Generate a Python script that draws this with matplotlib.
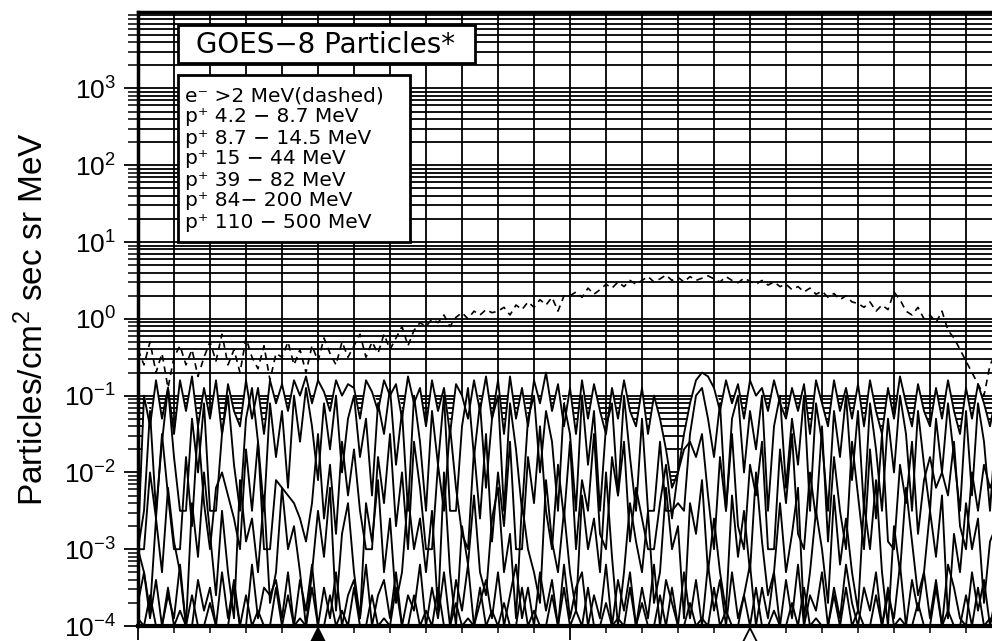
import numpy as np
import matplotlib.pyplot as plt
from matplotlib.ticker import LogLocator, MultipleLocator, NullFormatter
from matplotlib.patches import Rectangle
import matplotlib.transforms as mtransforms

plt.rcParams['font.family'] = ['Liberation Sans', 'DejaVu Sans']
plt.rcParams['mathtext.fontset'] = 'custom'
plt.rcParams['mathtext.rm'] = 'Liberation Sans'
plt.rcParams['mathtext.it'] = 'Liberation Sans'
plt.rcParams['mathtext.default'] = 'regular'

# log10 of flux, one sample every 10 minutes over 24 h
p_4_9 = [-2.9, -1.0, -1.4, -0.8, -1.3, -0.9, -1.5, -0.8, -1.2, -0.75, -1.4, -0.9,
         -1.3, -0.8, -1.5, -0.85, -1.2, -1.4, -0.8, -1.3, -0.9, -1.5, -0.8, -1.1,
         -0.85, -1.2, -0.8, -1.0, -0.75, -1.1, -0.8, -0.95, -1.2, -0.8, -1.0, -0.85,
         -0.9, -1.3, -0.8, -0.95, -1.2, -0.8, -1.0, -0.85, -1.3, -0.75, -1.1, -0.9,
         -1.4, -0.8, -1.2, -0.9, -1.5, -0.85, -1.0, -1.3, -0.8, -1.2, -0.75, -1.3,
         -0.8, -1.5, -0.75, -1.3, -0.9, -1.4, -0.8, -1.1, -0.7, -1.2, -0.85, -1.4,
         -0.9, -1.5, -0.8, -1.3, -0.85, -1.2, -1.5, -0.9, -1.3, -0.8, -1.2, -1.4,
         -0.9, -1.5, -1.0, -1.3, -1.7, -2.2, -2.0, -1.5, -1.1, -0.8, -0.7, -0.75,
         -0.9, -1.2, -0.8, -1.1, -0.85, -1.3, -0.8, -1.0, -0.9, -1.2, -0.8, -1.1,
         -1.3, -0.9, -1.2, -0.85, -1.5, -0.8, -1.1, -1.4, -0.8, -1.2, -0.9, -1.3,
         -0.85, -1.4, -0.8, -1.2, -1.5, -0.9, -1.3, -0.75, -1.1, -1.4, -0.85, -1.2,
         -1.4, -0.9, -1.3, -0.8, -1.2, -1.5, -0.9, -1.3, -0.85, -1.1, -1.4, -1.0]
p_9_15 = [-3.0, -2.5, -1.2, -2.5, -1.6, -0.9, -1.8, -2.5, -2.5, -1.3, -2.0, -1.1,
          -2.5, -2.5, -1.5, -1.0, -1.9, -2.5, -1.3, -0.9, -1.6, -2.5, -1.1, -1.8,
          -1.2, -2.2, -1.0, -1.6, -0.9, -1.4, -2.1, -1.1, -1.7, -1.0, -2.0, -1.3,
          -1.0, -1.8, -1.3, -2.3, -1.1, -1.5, -0.9, -1.9, -1.2, -2.5, -1.0, -1.6,
          -2.5, -1.2, -1.9, -1.0, -2.5, -2.5, -1.4, -0.9, -1.8, -1.1, -2.2, -1.3,
          -1.0, -2.5, -1.1, -1.7, -2.5, -1.3, -1.0, -2.0, -1.2, -1.6, -2.5, -1.1,
          -1.5, -2.5, -1.0, -1.9, -1.2, -2.5, -1.4, -1.1, -2.3, -1.0, -1.8, -2.5,
          -1.3, -2.5, -2.5, -1.6, -2.5, -2.5, -2.4, -2.5, -1.5, -1.0, -0.9, -1.3,
          -1.8, -1.1, -2.5, -1.3, -1.0, -2.0, -1.2, -1.7, -1.0, -2.5, -1.4, -1.0,
          -2.2, -1.3, -1.9, -1.0, -2.5, -1.1, -1.6, -2.5, -1.2, -1.8, -1.0, -2.1,
          -1.2, -2.5, -1.1, -1.7, -2.5, -1.3, -2.0, -1.0, -1.5, -2.5, -1.2, -1.9,
          -2.5, -1.3, -2.0, -1.1, -1.8, -2.5, -1.2, -2.3, -1.1, -1.6, -2.5, -1.4]
p_15_44 = [-3.0, -3.0, -2.0, -2.6, -1.5, -2.3, -3.0, -3.0, -1.8, -2.7, -1.4, -2.4,
           -3.0, -2.2, -2.0, -2.3, -2.6, -3.0, -1.7, -2.5, -1.6, -3.0, -3.0, -2.1,
           -2.2, -2.3, -2.4, -2.6, -2.9, -2.4, -1.5, -2.6, -1.9, -2.8, -1.6, -2.3,
           -1.7, -2.5, -3.0, -3.0, -1.8, -2.4, -1.5, -2.7, -2.0, -3.0, -1.6, -2.2,
           -3.0, -3.0, -1.9, -2.5, -1.4, -2.2, -2.8, -3.0, -1.7, -2.6, -1.5, -2.9,
           -2.0, -2.7, -1.6, -3.0, -3.0, -1.8, -2.4, -1.4, -2.5, -3.0, -1.9, -2.6,
           -1.6, -3.0, -2.1, -2.5, -1.5, -2.8, -3.0, -1.8, -2.3, -1.6, -2.9, -2.2,
           -2.6, -3.0, -3.0, -2.4, -1.9, -2.6, -2.0, -1.7, -1.6, -1.8, -1.5, -2.3,
           -3.0, -1.8, -2.5, -1.5, -2.7, -3.0, -1.9, -2.3, -1.6, -3.0, -3.0, -1.7,
           -2.4, -1.5, -2.8, -3.0, -2.0, -2.6, -1.4, -2.9, -1.8, -2.5, -3.0, -1.6,
           -2.3, -3.0, -1.7, -2.6, -1.5, -2.9, -3.0, -1.9, -2.4, -1.6, -2.8, -2.1,
           -1.8, -2.2, -2.0, -2.3, -1.6, -2.7, -3.0, -2.0, -2.5, -1.9, -2.2, -2.0]
p_39_82 = [-3.0, -3.3, -3.8, -2.6, -3.3, -2.2, -2.9, -3.3, -4.0, -2.4, -3.1, -2.0,
           -2.8, -3.6, -2.5, -3.3, -3.9, -2.1, -2.9, -2.6, -3.3, -2.3, -3.7, -3.3,
           -2.2, -3.0, -2.7, -3.3, -4.0, -3.3, -2.5, -3.1, -2.2, -3.8, -2.8, -2.4,
           -3.3, -3.9, -2.4, -2.9, -2.1, -3.3, -2.6, -3.7, -3.3, -2.3, -3.0, -2.6,
           -3.3, -2.5, -3.8, -2.0, -3.3, -4.0, -2.7, -3.2, -2.3, -3.3, -3.6, -2.6,
           -2.2, -3.3, -2.8, -3.9, -2.4, -3.0, -3.3, -3.7, -2.1, -2.9, -3.3, -2.5,
           -3.3, -3.8, -2.3, -3.0, -2.6, -3.3, -2.0, -3.1, -4.0, -3.3, -2.4, -2.9,
           -3.3, -2.5, -3.7, -3.3, -2.2, -3.0, -2.7, -3.9, -2.4, -2.8, -2.1, -3.3,
           -2.6, -3.3, -3.8, -2.3, -3.1, -2.5, -3.3, -2.0, -2.9, -3.6, -3.3, -2.4,
           -3.3, -2.8, -2.2, -3.9, -3.3, -2.5, -3.0, -3.7, -2.3, -3.2, -2.6, -3.3,
           -3.8, -2.4, -3.0, -2.1, -3.3, -4.0, -2.7, -3.3, -2.2, -2.9, -3.6, -3.3,
           -2.5, -3.1, -2.3, -3.9, -2.8, -3.3, -2.4, -3.0, -2.6, -3.7, -2.9, -2.7]
p_84_200 = [-3.7, -3.3, -3.9, -3.4, -4.0, -3.6, -3.9, -3.2, -4.0, -4.0, -3.4, -3.8,
            -3.5, -4.0, -3.3, -3.9, -3.4, -4.0, -4.0, -3.2, -3.9, -3.5, -3.6, -3.4,
            -3.9, -3.3, -4.0, -3.4, -3.8, -3.2, -4.0, -3.5, -3.9, -3.3, -4.0, -3.6,
            -3.4, -3.9, -3.2, -4.0, -3.6, -3.4, -3.9, -3.3, -4.0, -3.6, -3.8, -3.2,
            -4.0, -3.5, -3.9, -3.3, -4.0, -3.4, -3.8, -3.2, -4.0, -3.7, -3.4, -3.9,
            -3.3, -4.0, -3.6, -3.2, -3.9, -3.5, -4.0, -3.3, -3.8, -3.4, -4.0, -3.2,
            -3.9, -3.5, -3.3, -4.0, -3.6, -3.9, -3.2, -4.0, -3.4, -3.8, -3.3, -4.0,
            -3.5, -3.9, -3.2, -4.0, -3.4, -3.7, -4.0, -3.3, -3.9, -3.4, -4.0, -3.2,
            -3.8, -3.4, -4.0, -3.3, -3.9, -3.6, -3.2, -4.0, -3.5, -3.9, -3.3, -4.0,
            -3.4, -3.9, -3.2, -4.0, -3.6, -3.8, -3.3, -4.0, -3.5, -3.9, -3.2, -3.7,
            -4.0, -3.5, -3.8, -3.3, -4.0, -3.6, -3.9, -3.2, -4.0, -3.4, -3.8, -3.3,
            -3.9, -3.4, -4.0, -3.2, -3.5, -3.9, -4.0, -3.3, -3.8, -3.4, -4.0, -3.6]
p_110_500 = [-3.9, -4.0, -3.6, -4.0, -4.0, -3.5, -4.0, -3.8, -4.0, -3.6, -4.0, -4.0,
             -3.7, -4.0, -4.0, -4.0, -3.5, -4.0, -3.6, -4.0, -3.8, -4.0, -4.0, -3.5,
             -4.0, -3.6, -4.0, -3.9, -4.0, -3.5, -4.0, -4.0, -3.6, -4.0, -3.8, -4.0,
             -3.5, -4.0, -4.0, -3.6, -4.0, -3.9, -4.0, -3.5, -4.0, -4.0, -3.6, -4.0,
             -3.8, -4.0, -3.5, -4.0, -4.0, -3.7, -4.0, -3.9, -4.0, -3.5, -4.0, -3.8,
             -4.0, -3.7, -4.0, -4.0, -3.5, -4.0, -3.8, -4.0, -4.0, -3.6, -4.0, -3.5,
             -4.0, -3.8, -4.0, -3.5, -4.0, -4.0, -3.7, -4.0, -3.9, -4.0, -3.5, -4.0,
             -3.7, -4.0, -4.0, -3.6, -4.0, -3.5, -4.0, -4.0, -3.7, -4.0, -3.9, -4.0,
             -3.5, -4.0, -3.8, -4.0, -4.0, -3.6, -4.0, -3.5, -4.0, -4.0, -3.8, -4.0,
             -4.0, -3.7, -4.0, -3.5, -4.0, -3.9, -4.0, -4.0, -3.6, -4.0, -3.5, -4.0,
             -3.8, -4.0, -4.0, -3.6, -4.0, -3.5, -4.0, -3.9, -4.0, -4.0, -3.7, -4.0,
             -4.0, -3.5, -4.0, -3.8, -4.0, -4.0, -3.6, -4.0, -3.5, -4.0, -3.9, -4.0]
e_2mev = [-0.4, -0.6, -0.3, -0.7, -0.45, -0.9, -0.5, -0.35, -0.6, -0.4, -0.75, -0.5,
          -0.3, -0.55, -0.2, -0.6, -0.4, -0.7, -0.25, -0.5, -0.65, -0.35, -0.8, -0.45,
          -0.5, -0.3, -0.6, -0.4, -0.7, -0.35, -0.55, -0.25, -0.45, -0.6, -0.3, -0.5,
          -0.35, -0.2, -0.5, -0.3, -0.45, -0.2, -0.4, -0.25, -0.1, -0.35, -0.15, -0.05,
          -0.1, 0.0, -0.05, 0.05, -0.1, 0.02, 0.08, 0.0, 0.1, 0.05, 0.12, 0.08,
          0.1, 0.15, 0.05, 0.18, 0.12, 0.22, 0.15, 0.25, 0.18, 0.28, 0.1, 0.3,
          0.3, 0.35, 0.28, 0.4, 0.32, 0.38, 0.45, 0.4, 0.48, 0.42, 0.5, 0.45,
          0.5, 0.55, 0.48, 0.52, 0.57, 0.5, 0.54, 0.48, 0.55, 0.5, 0.53, 0.56,
          0.52, 0.48, 0.55, 0.5, 0.47, 0.53, 0.49, 0.45, 0.5, 0.44, 0.48, 0.42,
          0.45, 0.38, 0.42, 0.35, 0.4, 0.32, 0.36, 0.28, 0.33, 0.25, 0.3, 0.22,
          0.2, 0.15, 0.22, 0.1, 0.18, 0.12, 0.35, 0.25, 0.1, 0.05, 0.15, 0.0,
          0.05, -0.05, 0.1, -0.15, -0.25, -0.4, -0.55, -0.7, -0.85, -1.0, -0.6, -0.45]

proton_series = [p_4_9, p_9_15, p_15_44, p_39_82, p_84_200, p_110_500]
legend_labels = ['e⁻ >2 MeV(dashed)', 'p⁺ 4.2 − 8.7 MeV', 'p⁺ 8.7 − 14.5 MeV',
                 'p⁺ 15 − 44 MeV', 'p⁺ 39 − 82 MeV', 'p⁺ 84− 200 MeV',
                 'p⁺ 110 − 500 MeV']
event_hours = [5, 17]
event_filled = [True, False]

hours = np.arange(len(p_4_9)) / 6.0

fig = plt.figure(figsize=(9.92, 6.41), dpi=100)
ax = fig.add_axes([138 / 992, 15 / 641, 864 / 992, 614 / 641])

ax.set_yscale('log')
ax.set_xlim(0, 24)
ax.set_ylim(1e-4, 9.9e3)

ax.xaxis.set_major_locator(MultipleLocator(12))
ax.xaxis.set_minor_locator(MultipleLocator(1))
ax.xaxis.set_major_formatter(NullFormatter())
ax.yaxis.set_major_locator(LogLocator(base=10, numticks=20))
ax.yaxis.set_minor_locator(LogLocator(base=10, subs=np.arange(2, 10), numticks=20))
ax.yaxis.set_minor_formatter(NullFormatter())

ax.set_axisbelow(True)
ax.grid(True, which='both', axis='both', color='black', lw=1.3)

ax.tick_params(axis='y', which='major', direction='out', length=10, width=1.3,
               labelsize=19, pad=6)
ax.tick_params(axis='y', which='minor', direction='out', length=7, width=1.1)
ax.tick_params(axis='x', which='major', direction='out', length=10, width=1.3)
ax.tick_params(axis='x', which='minor', direction='out', length=5, width=1.1)
ax.tick_params(top=False, right=False)

for side in ['left', 'top']:
    ax.spines[side].set_linewidth(2.5)
ax.spines['bottom'].set_linewidth(3)
ax.spines['right'].set_visible(False)

flux = [10.0 ** np.array(s) for s in proton_series]
ax.fill_between(hours, 1e-6, np.max(flux, axis=0), color='white', lw=0, zorder=1.5)
for f in flux:
    ax.plot(hours, f, color='black', lw=1.35, zorder=2)
ax.plot(hours, 10.0 ** np.array(e_2mev), color='black', lw=1.2,
        linestyle=(0, (4, 3)), zorder=2.5)

ax.set_ylabel('Particles/cm$^2$ sec sr MeV', fontsize=24, labelpad=10)

trans = mtransforms.blended_transform_factory(ax.transData, ax.transAxes)
for h, filled in zip(event_hours, event_filled):
    ax.plot([h], [-0.016], marker='^', markersize=11, color='black',
            markerfacecolor='black' if filled else 'white', markeredgewidth=1.3,
            transform=trans, clip_on=False, zorder=6)

# title box
fig.patches.append(Rectangle((178 / 992, 1 - 63 / 641), 297 / 992, 38 / 641,
                             transform=fig.transFigure, facecolor='white',
                             edgecolor='black', lw=2, zorder=5))
fig.text(326 / 992, 1 - 45 / 641, 'GOES−8 Particles*', fontsize=20,
         family='DejaVu Sans', ha='center', va='center', zorder=6)

# legend box
fig.patches.append(Rectangle((178 / 992, 1 - 242 / 641), 232 / 992, 167 / 641,
                             transform=fig.transFigure, facecolor='white',
                             edgecolor='black', lw=2, zorder=5))
for k, lab in enumerate(legend_labels):
    fig.text(185 / 992, 1 - (96 + 21 * k) / 641, lab, fontsize=14.5,
             family='DejaVu Sans', ha='left', va='center', zorder=6)

fig.savefig('out.png', dpi=100)
